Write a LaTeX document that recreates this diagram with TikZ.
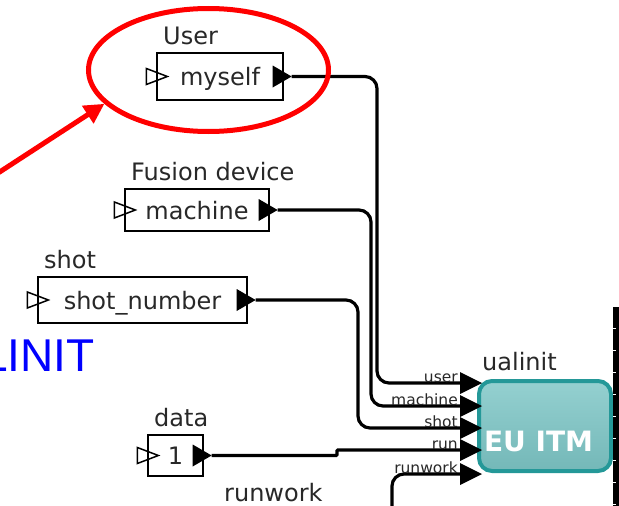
\documentclass[tikz,border=0pt]{standalone}
\usepackage{fontspec}
\setmainfont{DejaVu Sans}
\newfontfamily\bigsans{Liberation Sans}
\usetikzlibrary{shapes.geometric,arrows.meta}
\definecolor{tealtop}{RGB}{148,208,208}
\definecolor{tealbot}{RGB}{116,184,184}
\definecolor{tealedge}{RGB}{36,152,152}
\definecolor{labgray}{RGB}{40,40,40}
\begin{document}
\begin{tikzpicture}[x=1pt,y=-1pt,
  lab/.style={font=\fontsize{24}{24}\selectfont, text=labgray, inner sep=0pt, anchor=base west},
  box/.style={draw=black, line width=1.3pt, fill=white, inner sep=0pt, text height=23pt, text depth=5pt, font=\fontsize{24}{24}\selectfont, text=labgray},
  portlab/.style={font=\fontsize{15.5}{15.5}\selectfont, text=labgray, inner sep=0pt, anchor=base east},
  wire/.style={line width=3.2pt, rounded corners=12pt},
]
\useasboundingbox (0,0) rectangle (619,506);
\fill[white] (0,0) rectangle (619,506);

% blue partial title
\node[font=\bigsans\fontsize{46}{46}\selectfont, text=blue, anchor=base west, inner sep=0pt] (linit) at (-18,371) {LINIT};

% source boxes
\node[box, minimum width=126pt, minimum height=47pt] (myself) at (220,76.5) {myself};
\node[box, minimum width=144pt, minimum height=42pt] (machine) at (197,210) {machine};
\node[box, minimum width=209pt, minimum height=46pt] (shotnum) at (142.5,300) {shot\_number};
\node[box, minimum width=55pt, minimum height=41pt] (data) at (175.5,455.5) {1};

% labels
\node[lab] (lUser) at (163,44) {User};
\node[lab] (lFusion) at (131,180) {Fusion device};
\node[lab] (lshot) at (44,268) {shot};
\node[lab] (ldata) at (154,426) {data};
\node[lab] (lrunwork) at (224,501) {runwork};
\node[lab] (lualinit) at (482,370) {ualinit};

% port triangles of source boxes
\foreach \n in {myself,machine,shotnum,data} {
  \draw[line width=1.5pt] ([xshift=-10pt,yshift=8pt]\n.west) -- ([xshift=11pt]\n.west) -- ([xshift=-10pt,yshift=-8pt]\n.west) -- cycle;
  \fill[black] ([xshift=-11pt,yshift=11pt]\n.east) -- ([xshift=8pt]\n.east) -- ([xshift=-11pt,yshift=-11pt]\n.east) -- cycle;
  \coordinate (o-\n) at ([xshift=8pt]\n.east);
}

% ualinit actor
\node[draw=tealedge, line width=4pt, rounded corners=13pt, top color=tealtop, bottom color=tealbot, minimum width=132pt, minimum height=90pt, inner sep=0pt] (ualinit) at (545,426) {};
\node[font=\bfseries\fontsize{28}{28}\selectfont, text=white, anchor=base, inner sep=0pt] (eu) at (538.5,451) {EU ITM};

% input ports of ualinit
\coordinate (p-user) at (460,383);
\coordinate (p-machine) at (460,406);
\coordinate (p-shot) at (460,428);
\coordinate (p-run) at (460,450);
\coordinate (p-runwork) at (460,474);
\coordinate (rw-start) at (392,515);

% wires
\draw[wire] (o-myself) -- (377,76.5) -- (377,383) -- (p-user);
\draw[wire] (o-machine) -- (371,210) -- (371,406) -- (p-machine);
\draw[wire] (o-shotnum) -- (358,300) -- (358,428) -- (p-shot);
\draw[wire, rounded corners=1pt] (o-data) -- (337,455.5) -- (337,450) -- (p-run);
\draw[wire] (rw-start) -- (392,474) -- (p-runwork);

% port labels
\node[portlab] (t-user) at (458,382) {user};
\node[portlab] (t-machine) at (458,405) {machine};
\node[portlab] (t-shot) at (458,427) {shot};
\node[portlab] (t-run) at (458,449) {run};
\node[portlab] (t-runwork) at (458,473) {runwork};

% port arrowheads
\foreach \p in {p-user,p-machine,p-shot,p-run,p-runwork} {
  \fill[black] (\p) ++(0,-11) -- ++(22,11) -- ++(-22,11) -- cycle;
}

% right output bar
\fill[black] (613,307) rectangle (619,506);
\foreach \yy in {328,350,...,506} {
  \draw[white, line width=1pt] (613,\yy) -- (615.5,\yy);
}

% red highlight
\node[draw=red, line width=5pt, ellipse, minimum width=240pt, minimum height=123pt, inner sep=0pt] (circ) at (208.5,70) {};
\coordinate (arrstart) at (-5,175);
\draw[red, line width=5pt, -{Triangle[length=20pt,width=20pt]}] (arrstart) -- (circ.198);
\end{tikzpicture}
\end{document}
